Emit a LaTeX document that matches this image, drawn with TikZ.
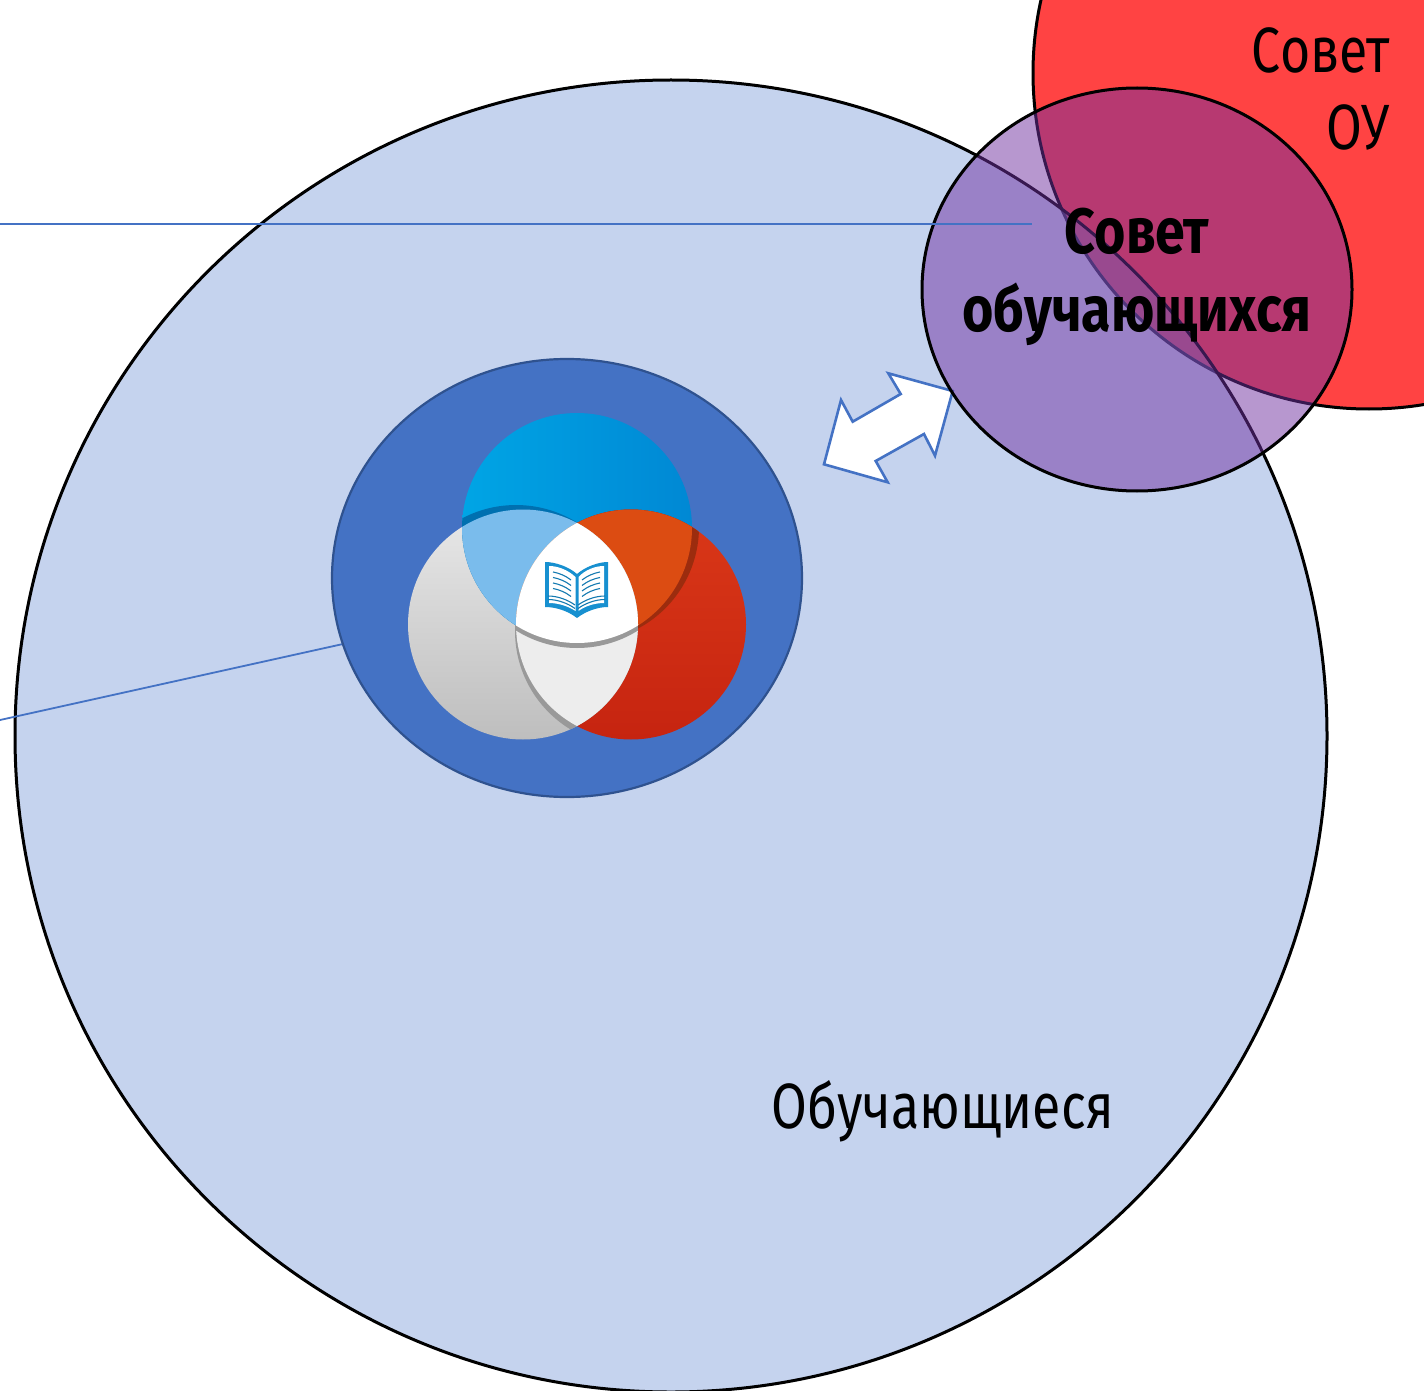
\documentclass[tikz,border=0pt]{standalone}
\usepackage{fontspec}
\newfontfamily\sovfont[FakeStretch=0.81]{Fira Sans}
\newfontfamily\sovbold[FakeStretch=0.84]{Fira Sans}
\definecolor{bigfill}{RGB}{114,147,214}
\definecolor{redfill}{RGB}{255,67,67}
\definecolor{purp}{RGB}{112,48,160}
\definecolor{accent}{RGB}{68,114,196}
\definecolor{accentdk}{RGB}{47,82,143}
\definecolor{bookblue}{RGB}{23,144,208}
\tikzset{
  lead/.style={draw=accent,line width=.9pt},
  bigtext/.style={font=\sovfont\fontsize{32}{38.5}\selectfont,text=black,inner sep=0pt},
  boldtext/.style={font=\sovbold\bfseries\fontsize{32}{38.5}\selectfont,text=black,inner sep=0pt},
  ring/.style={draw=black,line width=1.5pt},
  bookline/.style={draw=bookblue!85!black,line width=.55pt}
}
\newcommand{\cblue}{(577,528) circle[radius=115]}
\newcommand{\cgrey}{(523,624.5) circle[radius=115]}
\newcommand{\cred}{(631,624.5) circle[radius=115]}
\begin{document}
\begin{tikzpicture}[x=.5pt,y=-.5pt]
\useasboundingbox (0,0) rectangle (1424,1391);
\clip (0,0) rectangle (1424,1391);
\coordinate (leadAend) at (1032,224);
\coordinate (leadAfree) at (0,224);
\coordinate (leadBend) at (343,644);
\coordinate (leadBfree) at (0,720);
% council of school
\path[fill=redfill,ring] (1369,73) circle[radius=336];
% learners
\path[fill=bigfill,fill opacity=.41,ring] (671,736) circle[radius=656];
% connectors
\draw[lead] (leadBfree) -- (leadBend);
% inner ellipse
\path[fill=accent,draw=accentdk,line width=1.1pt] (567,578) ellipse[x radius=235,y radius=219];
% venn base
\shade[left color={rgb,255:red,0;green,165;blue,229},right color={rgb,255:red,0;green,136;blue,212}] \cblue;
\shade[top color={rgb,255:red,232;green,232;blue,232},bottom color={rgb,255:red,190;green,190;blue,190}] \cgrey;
\shade[top color={rgb,255:red,218;green,56;blue,24},bottom color={rgb,255:red,198;green,36;blue,16}] \cred;
% shadows below the lenses
\begin{scope}\clip \cblue;\fill[fill={rgb,255:red,0;green,112;blue,176}] (516,620) circle[radius=115];\end{scope}
\begin{scope}\clip \cred;\fill[fill={rgb,255:red,156;green,44;blue,14}] (584,527) circle[radius=115];\end{scope}
\begin{scope}\clip \cgrey;\fill[fill={rgb,255:red,153;green,153;blue,153}] (630,631) circle[radius=115];\end{scope}
% pair lenses
\begin{scope}\clip \cblue;\fill[fill={rgb,255:red,122;green,188;blue,236}] \cgrey;\end{scope}
\begin{scope}\clip \cblue;\fill[fill={rgb,255:red,220;green,76;blue,18}] \cred;\end{scope}
\begin{scope}\clip \cgrey;\fill[fill={rgb,255:red,237;green,237;blue,237}] \cred;\end{scope}
\begin{scope}\clip \cgrey;\clip \cred;\fill[fill={rgb,255:red,153;green,153;blue,153}] (577,533) circle[radius=115];\end{scope}
\begin{scope}\clip \cgrey;\clip \cred;\fill[white] \cblue;\end{scope}
% book icon
\fill[bookblue] (545,562) .. controls (556,562) and (569,567) .. (577,574) .. controls (585,567) and (598,562) .. (608,562) -- (608,607) .. controls (598,607) and (586,611) .. (577,618) .. controls (568,611) and (556,607) .. (545,607) -- cycle;
\fill[white] (549,566) .. controls (558,566) and (568,570) .. (575.5,577) -- (575.5,611) .. controls (568,606) and (558,603) .. (549,603) -- cycle;
\fill[white] (604,566) .. controls (595,566) and (585,570) .. (578.5,577) -- (578.5,611) .. controls (585,606) and (595,603) .. (604,603) -- cycle;
\foreach \d in {0,5.5,11,16.5}{
  \draw[bookline] (553,{572+\d}) .. controls (559,{573+\d}) and (566,{576+\d}) .. (571,{580+\d});
  \draw[bookline] (600,{572+\d}) .. controls (594,{573+\d}) and (587,{576+\d}) .. (582,{580+\d});
}
\foreach \d in {0,3.5}{
  \draw[bookline] (548,{596+\d}) .. controls (558,{596+\d}) and (568,{600+\d}) .. (575,{605+\d});
  \draw[bookline] (605,{596+\d}) .. controls (595,{596+\d}) and (585,{600+\d}) .. (578,{605+\d});
}
% double arrow
\path[fill=white,draw=accent,line width=1.3pt,miter limit=10] (888.3,373.3) -- (952.7,391) -- (935,455.7) -- (924,434) -- (875.7,461) -- (887.7,482.3) -- (824,464.3) -- (841,400) -- (852.7,421.7) -- (900.7,394) -- cycle;
% students' council
\path[fill=purp,fill opacity=.5,ring] (1137,289.5) ellipse[x radius=215,y radius=201.5];
\draw[lead] (leadAfree) -- (leadAend);
% labels
\node[bigtext,anchor=base east] (sovet) at (1390,73) {Совет};
\node[bigtext,anchor=base east] (ou) at (1390,150) {ОУ};
\node[boldtext,anchor=base] (sob1) at (1137,254) {Совет};
\node[boldtext,anchor=base] (sob2) at (1137,331) {обучающихся};
\node[bigtext,anchor=base] (learn) at (943,1128) {Обучающиеся};
\end{tikzpicture}
\end{document}
